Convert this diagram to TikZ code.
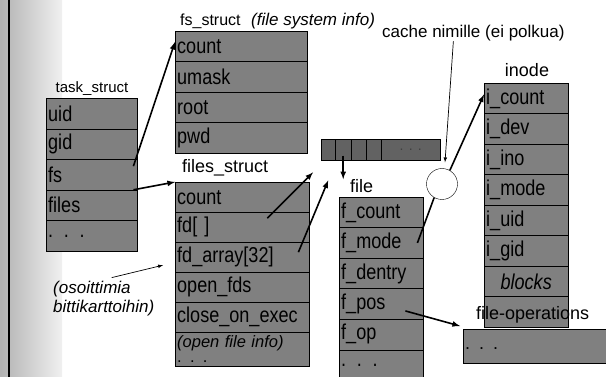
\documentclass[tikz,border=0pt]{standalone}
\usepackage{fontspec}
\setmainfont{Liberation Sans}
\newfontfamily\fieldfont[FakeStretch=0.84]{Liberation Sans}
\usepackage{xcolor}
\usepackage{tikz}
\definecolor{boxgray}{HTML}{808080}
\definecolor{cellgray}{HTML}{626262}
\tikzset{>=latex}
\tikzset{field/.style={draw, fill=boxgray, anchor=north west, inner xsep=2pt, inner ysep=0pt, align=left, font=\fieldfont\fontsize{21.5}{22}\selectfont}}
\tikzset{cell/.style={draw, fill=cellgray, anchor=north west, minimum height=21pt, inner sep=0pt}}
\tikzset{lbl/.style={inner sep=0pt, font=\fontsize{18}{20}\selectfont}}
\tikzset{ptr/.style={->, line width=1.6pt}}
\tikzset{hint/.style={->, line width=0.7pt}}

\begin{document}
\begin{tikzpicture}[x=1pt, y=-1pt]
    \useasboundingbox (0,0) rectangle (606,377);
    \clip (0,0) rectangle (606,377);
    \shade[left color=gray!60, right color=gray!12] (0,0) rectangle (62,377);
    \draw[line width=2pt] (9,0) -- (9,377);

    \node[lbl, font=\fontsize{15}{17}\selectfont] at (92,89) (tslbl) {task\_struct};
    \node[field, text width=87pt, minimum height=30.6pt] at (46,98)    (ts1) {uid};
    \node[field, text width=87pt, minimum height=30.6pt] at (46,128.6) (ts2) {gid};
    \node[field, text width=87pt, minimum height=30.6pt] at (46,159.2) (ts3) {fs};
    \node[field, text width=87pt, minimum height=30.6pt] at (46,189.8) (ts4) {files};
    \node[field, text width=87pt, minimum height=30.6pt] at (46,220.4) (ts5) {. . .};

    \node[lbl, anchor=west, font=\fontsize{16}{18}\selectfont] at (180,21) (fslbl) {fs\_struct};
    \node[lbl, anchor=west, font=\fontsize{17}{18}\itshape] at (251,21) (fsinfo) {(file system info)};
    \node[field, text width=128pt, minimum height=30.5pt] at (175,31)    (fs1) {count};
    \node[field, text width=128pt, minimum height=30.5pt] at (175,61.5)  (fs2) {umask};
    \node[field, text width=128pt, minimum height=30.5pt] at (175,92)    (fs3) {root};
    \node[field, text width=128pt, minimum height=30.5pt] at (175,122.5) (fs4) {pwd};

    \node[lbl, anchor=west] at (182,168) (fllbl) {files\_struct};
    \node[field, text width=130pt, minimum height=30pt] at (175,182) (fl1) {count};
    \node[field, text width=130pt, minimum height=30pt] at (175,212) (fl2) {fd[ ]};
    \node[field, text width=130pt, minimum height=30pt] at (175,242) (fl3) {fd\_array[32]};
    \node[field, text width=130pt, minimum height=30pt] at (175,272) (fl4) {open\_fds};
    \node[field, text width=130pt, minimum height=30pt] at (175,302) (fl5) {close\_on\_exec};
    \node[field, text width=130pt, minimum height=34pt, font=\fontsize{16.5}{15}\selectfont] at (175,332) (fl6) {\textit{(open file info)}\\. . .};

    \node[lbl, anchor=north west, align=left, font=\fontsize{17}{19}\itshape] at (53,280.6) (note) {(osoittimia\\bittikarttoihin)};

    \node[cell, minimum width=14pt] at (321,139) (a1) {};
    \node[cell, minimum width=16pt] at (335,139) (a2) {};
    \node[cell, minimum width=15pt] at (351,139) (a3) {};
    \node[cell, minimum width=15pt] at (366,139) (a4) {};
    \node[cell, minimum width=59pt, text=black!75, font=\fontsize{14}{14}\selectfont] at (381,139) (a5) {. . .};

    \node[lbl, anchor=west] at (350,186) (filbl) {file};
    \node[field, text width=80pt, minimum height=30.5pt] at (339,197)   (fi1) {f\_count};
    \node[field, text width=80pt, minimum height=30.5pt] at (339,227.5) (fi2) {f\_mode};
    \node[field, text width=80pt, minimum height=30.5pt] at (339,258)   (fi3) {f\_dentry};
    \node[field, text width=80pt, minimum height=30.5pt] at (339,288.5) (fi4) {f\_pos};
    \node[field, text width=80pt, minimum height=30.5pt] at (339,319)   (fi5) {f\_op};
    \node[field, text width=80pt, minimum height=32pt]   at (339,349.5) (fi6) {. . .};

    \node[lbl, anchor=west, font=\fontsize{17}{19}\selectfont] at (382,33) (cache) {cache nimille (ei polkua)};
    \node[draw, circle, fill=white, minimum size=31pt, inner sep=0pt] at (442,184) (dc) {};

    \node[lbl] at (527,70.5) (inlbl) {inode};
    \node[field, text width=80pt, minimum height=30.5pt] at (484,83)    (in1) {i\_count};
    \node[field, text width=80pt, minimum height=30.5pt] at (484,113.5) (in2) {i\_dev};
    \node[field, text width=80pt, minimum height=30.5pt] at (484,144)   (in3) {i\_ino};
    \node[field, text width=80pt, minimum height=30.5pt] at (484,174.5) (in4) {i\_mode};
    \node[field, text width=80pt, minimum height=30.5pt] at (484,205)   (in5) {i\_uid};
    \node[field, text width=80pt, minimum height=30.5pt] at (484,235.5) (in6) {i\_gid};
    \node[field, text width=80pt, minimum height=30.5pt, align=center] at (484,266) (in7) {\textit{blocks}};
    \node[field, text width=80pt, minimum height=30.5pt] at (484,296.5) (in8) {};

    \node[lbl, anchor=west] at (476,314.5) (folbl) {file-operations};
    \node[field, text width=139pt, minimum height=34pt, font=\fontsize{18}{18}\selectfont] at (463,329) (fo) {\raisebox{-6pt}{. . .}};

    \draw[ptr] ([xshift=-4pt,yshift=8.5pt]ts3.east) -- ([yshift=4.5pt]fs1.west);
    \draw[ptr] ([xshift=-4pt]ts4.north east) -- (fl1.north west);
    \draw[ptr] ([xshift=-42pt,yshift=9pt]fl2.east) -- ([xshift=-8pt,yshift=-12pt]a1.south west);
    \draw[ptr] ([xshift=-11pt,yshift=5pt]fl3.east) -- ([yshift=-20pt]a1.south);
    \draw[hint] ([xshift=8pt,yshift=3pt]note.north) -- ([xshift=-12pt,yshift=-8pt]fl3.west);
    \draw[ptr] ([yshift=-6pt]a2.center) -- (a2.center |- filbl.north);
    \draw[line width=1.6pt] ([xshift=-6pt]fi2.east) -- (dc.240);
    \draw[ptr] (dc.60) -- ([yshift=4pt]in1.west);
    \draw[hint] ([xshift=-20pt]cache.south) -- ([xshift=3pt,yshift=6pt]dc.north);
    \draw[ptr] ([xshift=-18pt,yshift=-7pt]fi4.east) -- ([xshift=-3pt,yshift=3pt]fo.north west);
\end{tikzpicture}
\end{document}
